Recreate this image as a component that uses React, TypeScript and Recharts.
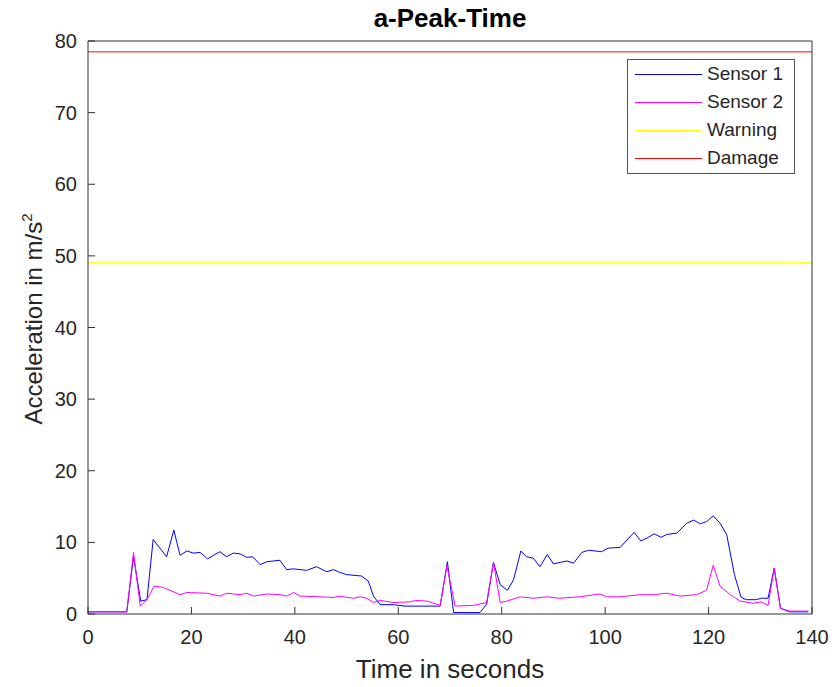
import { LineChart, Line, XAxis, YAxis, Legend, Label } from "recharts";

// sample times (s) and peak acceleration (m/s^2) for each sensor
const sensor1Time = [
    0, 7.5, 8.8, 10.2, 11.4, 12.6, 15.2, 16.6, 17.8, 19.1, 20.4, 21.7, 23.1, 25.5, 26.8,
    28.1, 29.4, 30.7, 31.8, 33.3, 34.6, 37.1, 38.4, 39.7, 42.3, 44.2, 46.2, 47.5, 48.7,
    50.0, 52.9, 54.2, 55.2, 56.5, 59.0, 61.3, 68.1, 69.5, 70.7, 75.8, 77.1, 78.4, 79.7,
    81.1, 82.3, 83.7, 84.8, 86.1, 87.4, 88.8, 90.0, 92.6, 93.9, 95.5, 96.8, 99.3, 100.6,
    102.9, 105.6, 106.9, 108.1, 109.5, 110.8, 111.9, 113.9, 115.8, 117.1, 118.4, 119.6,
    120.9, 122.2, 123.5, 125.0, 126.3, 127.3, 129.2, 130.2, 131.5, 132.7, 133.9, 135.7, 139.3
];
const sensor1Accel = [
    0.3, 0.3, 8.0, 1.8, 2.0, 10.4, 8.0, 11.7, 8.2, 8.8, 8.5, 8.6, 7.7, 8.7, 8.0,
    8.5, 8.4, 7.9, 8.0, 6.9, 7.3, 7.5, 6.2, 6.3, 6.1, 6.6, 5.9, 6.2, 5.8,
    5.5, 5.3, 4.6, 2.5, 1.3, 1.3, 1.1, 1.1, 7.3, 0.2, 0.2, 1.4, 7.2, 4.1,
    3.3, 4.8, 8.8, 8.0, 7.8, 6.6, 8.3, 7.0, 7.4, 7.1, 8.6, 8.9, 8.7, 9.2,
    9.3, 11.4, 10.2, 10.6, 11.2, 10.7, 11.1, 11.3, 12.7, 13.1, 12.6, 12.9,
    13.7, 12.7, 11.1, 5.5, 2.3, 2.0, 2.0, 2.2, 2.2, 6.4, 0.8, 0.3, 0.3
];

const sensor2Time = [
    0, 7.5, 8.8, 10.1, 11.4, 12.8, 14.6, 17.8, 19.1, 23.0, 25.5, 26.8, 29.4, 30.7, 32.0,
    34.6, 37.1, 38.4, 39.8, 41.0, 44.9, 47.5, 48.7, 51.3, 52.6, 53.9, 55.2, 56.5, 59.1,
    62.3, 63.3, 65.6, 68.1, 69.4, 71.0, 74.5, 77.1, 78.4, 79.7, 81.0, 83.6, 86.1, 88.7,
    91.2, 95.1, 99.0, 100.3, 102.9, 106.8, 109.4, 111.9, 114.5, 117.7, 119.6, 120.9,
    122.2, 124.2, 126.1, 128.6, 130.2, 131.5, 132.7, 133.9, 135.7, 139.3
];
const sensor2Accel = [
    0.3, 0.3, 8.6, 1.1, 2.0, 3.9, 3.7, 2.7, 3.0, 2.9, 2.5, 2.9, 2.7, 2.9, 2.5,
    2.8, 2.7, 2.5, 3.0, 2.5, 2.4, 2.3, 2.5, 2.2, 2.4, 2.2, 1.6, 1.9, 1.6,
    1.7, 1.9, 1.8, 1.2, 6.7, 1.1, 1.2, 1.6, 7.2, 1.6, 1.8, 2.4, 2.2, 2.4,
    2.2, 2.4, 2.8, 2.4, 2.4, 2.7, 2.7, 2.9, 2.5, 2.7, 3.3, 6.8,
    3.9, 2.7, 1.8, 1.5, 1.7, 1.2, 6.4, 0.8, 0.4, 0.4
];

// threshold levels (5 g and 8 g)
const WARNING_LEVEL = 49.05;
const DAMAGE_LEVEL = 78.48;

const timeTicks = [0, 20, 40, 60, 80, 100, 120, 140];
const accelTicks = [0, 10, 20, 30, 40, 50, 60, 70, 80];

const sensor1Data = sensor1Time.map((t, i) => ({ t, a: sensor1Accel[i] }));
const sensor2Data = sensor2Time.map((t, i) => ({ t, a: sensor2Accel[i] }));
const warningData = [{ t: 0, a: WARNING_LEVEL }, { t: 140, a: WARNING_LEVEL }];
const damageData = [{ t: 0, a: DAMAGE_LEVEL }, { t: 140, a: DAMAGE_LEVEL }];

const SERIES = [
    { name: "Sensor 1", color: "#0000ff" },
    { name: "Sensor 2", color: "#ff00ff" },
    { name: "Warning", color: "#ffff00" },
    { name: "Damage", color: "#ff0000" }
];

const FONT = "'Liberation Sans', Arial, Helvetica, sans-serif";
const TEXT = "#262626";
const AXIS = "#333333";

function LegendBox() {
    return (
        <div style={{
            width: 166, height: 113, border: "1px solid #555", background: "#fff",
            fontFamily: FONT, fontSize: 19, color: TEXT
        }}>
            {SERIES.map((s, i) => (
                <div key={s.name} style={{
                    position: "absolute", left: 1, top: 1 + i * 28, height: 28,
                    display: "flex", alignItems: "center"
                }}>
                    <div style={{ width: 67, height: 0, borderTop: `1px solid ${s.color}`, marginLeft: 7 }} />
                    <span style={{ marginLeft: 5, lineHeight: "28px" }}>{s.name}</span>
                </div>
            ))}
        </div>
    );
}

export default function App() {
    return (
        <div style={{ position: "absolute", left: 0, top: 0, fontFamily: FONT }}>
            <LineChart width={835} height={687} margin={{ top: 40, right: 22, bottom: 0, left: 0 }}>
                <XAxis
                    dataKey="t" type="number" domain={[0, 140]} ticks={timeTicks}
                    height={73} tickSize={-7} tickMargin={23}
                    stroke={AXIS} tick={{ fontSize: 20, fill: TEXT }}
                >
                    <Label content={() => (
                        <text x={450} y={678} textAnchor="middle" fontSize={26} fill={TEXT}>
                            Time in seconds
                        </text>
                    )} />
                </XAxis>
                {/* mirrored axes close the box on top and right */}
                <XAxis
                    xAxisId="top" orientation="top" dataKey="t" type="number" domain={[0, 140]}
                    ticks={timeTicks} height={1} tickSize={-7} tick={false} stroke={AXIS}
                >
                    <Label content={() => (
                        <text x={450} y={27} textAnchor="middle" fontSize={26} fontWeight="bold" fill="#000">
                            a-Peak-Time
                        </text>
                    )} />
                </XAxis>
                <YAxis
                    type="number" domain={[0, 80]} ticks={accelTicks} width={88}
                    tickSize={-7} tickMargin={18} stroke={AXIS} tick={{ fontSize: 20, fill: TEXT }}
                >
                    <Label content={() => (
                        <text transform="translate(42 319) rotate(-90)" textAnchor="middle" fontSize={24} fill={TEXT}>
                            Acceleration in m/s<tspan fontSize={15} dy={-10}>2</tspan>
                        </text>
                    )} />
                </YAxis>
                <YAxis
                    yAxisId="right" orientation="right" type="number" domain={[0, 80]}
                    ticks={accelTicks} width={1} tickSize={-7} tick={false} stroke={AXIS}
                />
                <Line data={sensor1Data} dataKey="a" name="Sensor 1" stroke="#0000ff" strokeWidth={1}
                    dot={false} isAnimationActive={false} />
                <Line data={sensor2Data} dataKey="a" name="Sensor 2" stroke="#ff00ff" strokeWidth={1}
                    dot={false} isAnimationActive={false} />
                <Line data={warningData} dataKey="a" name="Warning" stroke="#ffff00" strokeWidth={1}
                    dot={false} isAnimationActive={false} />
                <Line data={damageData} dataKey="a" name="Damage" stroke="#ff0000" strokeWidth={1}
                    dot={false} isAnimationActive={false} />
                <Legend
                    layout="vertical" align="center" verticalAlign="middle"
                    wrapperStyle={{ left: 627, top: 59, width: 168, height: 115 }}
                    content={() => <LegendBox />}
                />
            </LineChart>
        </div>
    );
}
